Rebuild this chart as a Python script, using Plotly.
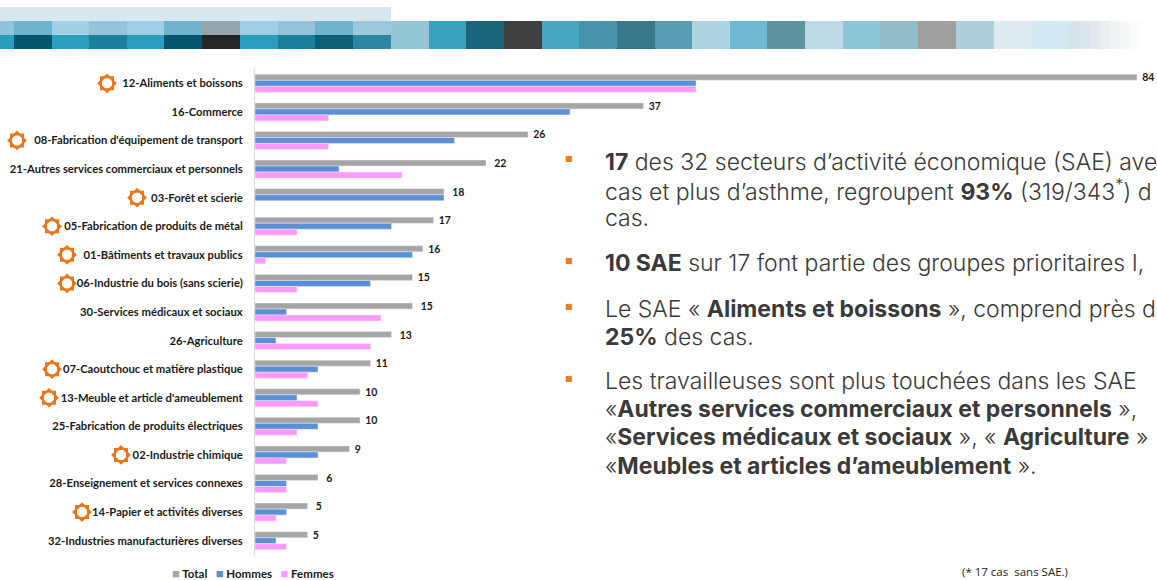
import plotly.graph_objects as go

W, H = 1157, 580
categories = ["12-Aliments et boissons", "16-Commerce", "08-Fabrication d'équipement de transport",
              "21-Autres services commerciaux et personnels", "03-Forêt et scierie",
              "05-Fabrication de produits de métal", "01-Bâtiments et travaux publics",
              "06-Industrie du bois (sans scierie)", "30-Services médicaux et sociaux", "26-Agriculture",
              "07-Caoutchouc et matière plastique", "13-Meuble et article d'ameublement",
              "25-Fabrication de produits électriques", "02-Industrie chimique",
              "28-Enseignement et services connexes", "14-Papier et activités diverses",
              "32-Industries manufacturières diverses"]
total = [84, 37, 26, 22, 18, 17, 16, 15, 15, 13, 11, 10, 10, 9, 6, 5, 5]
hommes = [42, 30, 19, 8, 18, 13, 15, 11, 3, 2, 6, 4, 6, 6, 3, 3, 2]
femmes = [42, 7, 7, 14, 0, 4, 1, 4, 12, 11, 5, 6, 4, 3, 3, 2, 3]
GREY, BLUE, PINK = "#a5a5a5", "#5b8fd6", "#ff99ff"

star_cats = ["12-Aliments et boissons", "08-Fabrication d'équipement de transport", "03-Forêt et scierie",
             "05-Fabrication de produits de métal", "01-Bâtiments et travaux publics",
             "06-Industrie du bois (sans scierie)", "07-Caoutchouc et matière plastique",
             "13-Meuble et article d'ameublement", "02-Industrie chimique", "14-Papier et activités diverses"]
star_x = [107, 17, 137, 52, 67, 67, 52, 49, 121, 82]

# (text, y centre, has bullet)
text_lines = [
    ("<b>17</b> des 32 secteurs d’activité économique (SAE) ave", 162, True),
    ("cas et plus d’asthme, regroupent <b>93%</b> (319/343<sup>*</sup>) d", 190, False),
    ("cas.", 218, False),
    ("<b>10 SAE</b> sur 17 font partie des groupes prioritaires I,", 263, True),
    ("Le SAE « <b>Aliments et boissons</b> », comprend près d", 309, True),
    ("<b>25%</b> des cas.", 337, False),
    ("Les travailleuses sont plus touchées dans les SAE", 381, True),
    ("«<b>Autres services commerciaux et personnels</b> »,", 409, False),
    ("«<b>Services médicaux et sociaux</b> », « <b>Agriculture</b> »", 437, False),
    ("«<b>Meubles et articles d’ameublement</b> ».", 466, False),
]

row1_edges = [0, 14, 52, 89, 127, 164, 202, 240, 278, 315, 353, 391]
row1_cols = ["#8fc6dd", "#6fb4cf", "#9fd0e6", "#95c5dc", "#9dd0e6", "#6fb4cf", "#95a5ab", "#9dd0e6", "#95c5dc", "#6fb4cf", "#9bc8dc"]
row2_cols = ["#2a9dbd", "#04566f", "#2b9dbe", "#1c7f9b", "#2b9dbe", "#04566f", "#262626", "#2b9dbe", "#1c7f9b", "#0b5f77", "#2a86a2"]
band_edges = [391, 429, 466, 504, 542, 579, 617, 655, 692, 730, 767, 805, 843, 880, 918, 956, 994, 1032, 1069,
              1080, 1090, 1100, 1110, 1120, 1130, 1140]
band_cols = ["#95c7d7", "#3aa2bf", "#1a677c", "#404040", "#47a7c2", "#4695ad", "#38788a", "#579cb2", "#aed4e2",
             "#6fbad2", "#5f929f", "#bcd9e5", "#8cc7d8", "#91bdcb", "#a0a0a0", "#afd0da", "#deecf2", "#d2e9f1",
             "#d6e3e8", "#dbe6ea", "#e2eaed", "#e9eff1", "#eff4f5", "#f5f8f9", "#fafbfc"]


def rect(x0, x1, y0, y1, col):
    return dict(type="rect", xref="paper", yref="paper", x0=x0 / W, x1=x1 / W, y0=1 - y1 / H, y1=1 - y0 / H,
                fillcolor=col, line_width=0, layer="below")


shapes = [rect(0, 391, 7, 21, "#d9e8ef")]
for i, c in enumerate(row1_cols):
    shapes.append(rect(row1_edges[i], row1_edges[i + 1], 21, 35, c))
for i, c in enumerate(row2_cols):
    shapes.append(rect(row1_edges[i], row1_edges[i + 1], 35, 49, c))
for i, c in enumerate(band_cols):
    shapes.append(rect(band_edges[i], band_edges[i + 1], 21, 49, c))

LBL = "Lato"
BODY = "Inter"
annotations = []
for t, y, b in text_lines:
    annotations.append(dict(text=t, x=603 / W, y=1 - y / H, xref="paper", yref="paper", xanchor="left",
                            yanchor="middle", showarrow=False, align="left",
                            font=dict(family=BODY, size=23, color="#3a3a3a", weight=300)))
    if b:
        annotations.append(dict(text="■", x=569 / W, y=1 - (y - 3) / H, xref="paper", yref="paper", xanchor="center",
                                yanchor="middle", showarrow=False, font=dict(family="DejaVu Sans", size=8, color="#ed7d1a")))
annotations.append(dict(text="(* 17 cas  sans SAE.)", x=961 / W, y=0, xref="paper", yref="paper",
                        xanchor="left", yanchor="bottom", showarrow=False, borderpad=0,
                        font=dict(family="Open Sans", size=11.5, color="#222222")))


def sw(col):
    return f"<span style='color:{col};font-size:13px'>■</span>"


annotations.append(dict(text=f"{sw(GREY)} Total   {sw(BLUE)} Hommes   {sw(PINK)} Femmes",
                        x=170 / W, y=1 - 573 / H, xref="paper", yref="paper", xanchor="left", yanchor="middle",
                        showarrow=False, font=dict(family=LBL, size=11.5, color="#1a1a1a", weight="bold")))

fig = go.Figure()
fig.add_bar(name="Total", y=categories, x=total, orientation="h", marker_color=GREY,
            text=total, textposition="outside", texttemplate="\u2002%{x}", cliponaxis=False, constraintext="none",
            textfont=dict(family=LBL, size=10.5, color="#1a1a1a", weight="bold"))
fig.add_bar(name="Hommes", y=categories, x=hommes, orientation="h", marker_color=BLUE)
fig.add_bar(name="Femmes", y=categories, x=femmes, orientation="h", marker_color=PINK)
for sym, sz in (("square-open", 12), ("diamond-open", 13)):
    fig.add_scatter(x=star_x, y=star_cats, xaxis="x2", mode="markers", showlegend=False, hoverinfo="skip",
                    cliponaxis=False,
                    marker=dict(symbol=sym, size=sz, color="#ed7417", line=dict(color="#ed7417", width=2)))

fig.update_layout(
    width=W, height=H, margin=dict(l=0, r=0, t=0, b=0, pad=0), paper_bgcolor="white", plot_bgcolor="rgba(0,0,0,0)",
    barmode="group", bargap=0.37, bargroupgap=0, showlegend=False, shapes=shapes, annotations=annotations,
    xaxis=dict(domain=[255 / W, 1], range=[0, 902 / 10.5], visible=False, fixedrange=True),
    xaxis2=dict(domain=[0, 1], range=[0, W], visible=False, fixedrange=True),
    yaxis=dict(domain=[1 - 555 / H, 1 - 69 / H], categoryorder="array", categoryarray=categories, range=[16.5, -0.5],
               showline=True, linecolor="#d9d9d9", linewidth=1, ticks="", showgrid=False, zeroline=False,
               ticklabelstandoff=9, tickfont=dict(family=LBL, size=11.25, color="#1a1a1a", weight="bold"),
               automargin=False, fixedrange=True),
)
fig.write_html("out.html", config={"displayModeBar": False},
               post_script="document.body.style.margin='0';document.body.style.overflow='hidden';")
